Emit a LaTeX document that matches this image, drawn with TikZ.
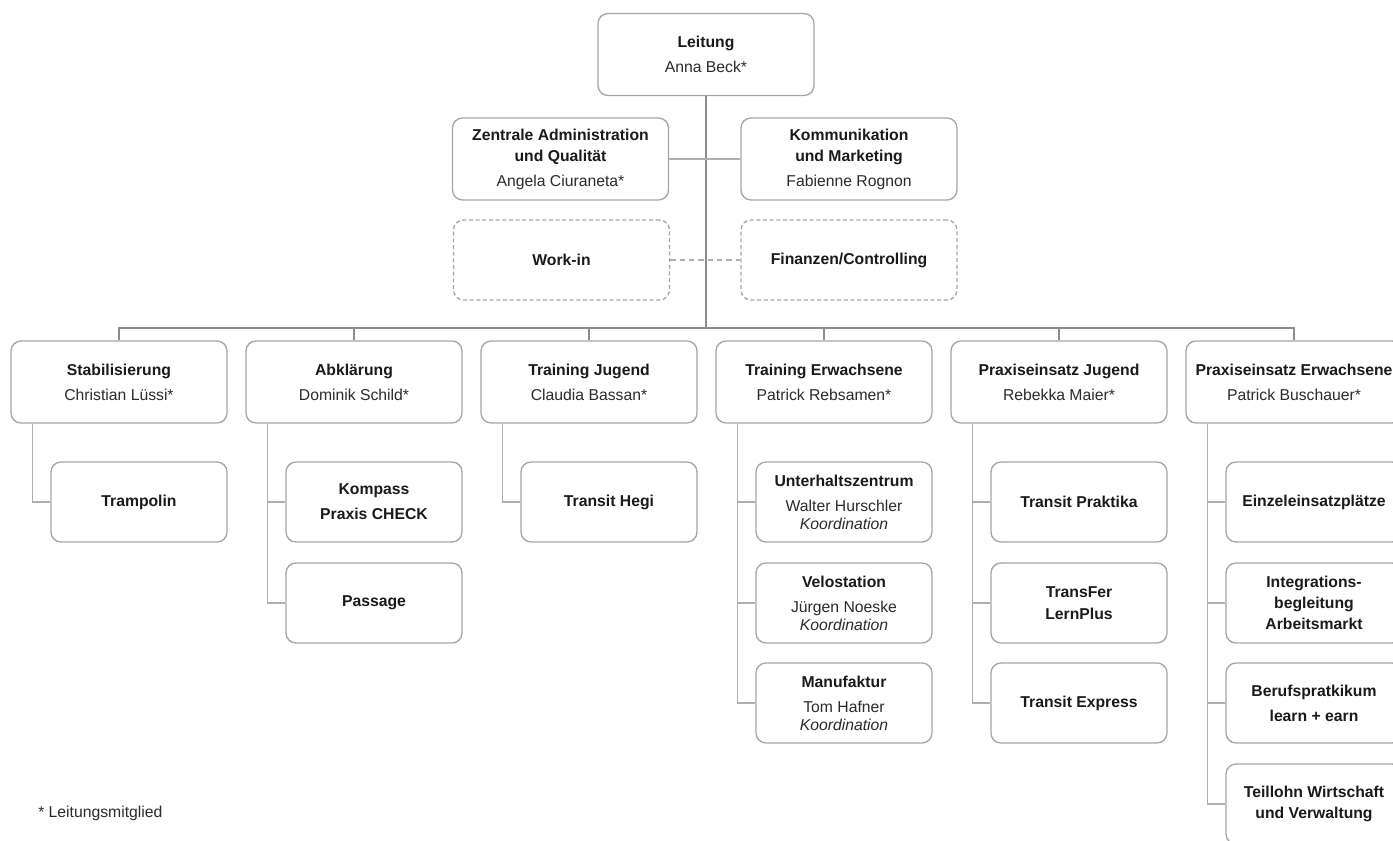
\documentclass[tikz,border=0pt]{standalone}
\usepackage{fontspec}
\setmainfont{Liberation Sans}
\definecolor{boxc}{HTML}{A6A6A6}
\definecolor{linec}{HTML}{8C8C8C}
\definecolor{lightc}{HTML}{AFAFAF}
\definecolor{txt}{HTML}{1A1A1A}
\definecolor{nmc}{HTML}{2B2B2B}
\newcommand\orgfs{\fontsize{11.8}{15.75}\selectfont}
\newcommand\nm[1]{{\color{nmc}#1}}
\begin{document}
\begin{tikzpicture}[x=0.75pt,y=-0.75pt,
  box/.style={draw=boxc, line width=1pt, rounded corners=7.5pt, align=center,
    inner sep=0pt, text=txt, font=\orgfs},
  topbox/.style={box, minimum width=162pt, minimum height=61.5pt},
  dbox/.style={box, dashed, dash pattern=on 3pt off 2pt, minimum width=162pt, minimum height=60pt},
  pbox/.style={box, minimum width=162pt, minimum height=61.5pt},
  cbox/.style={box, minimum width=132pt, minimum height=60pt},
  conn/.style={draw=linec, line width=1.1pt},
  lconn/.style={draw=lightc, line width=1.1pt},
  note/.style={text=nmc, font=\orgfs, anchor=west, inner sep=0pt}]
\useasboundingbox (0,0) rectangle (1393,841);
\clip (0,0) rectangle (1393,841);
\fill[white] (0,0) rectangle (1393,841);

% top level
\node[topbox] (lead) at (706,54.5) {\textbf{Leitung}\\[3pt]\nm{Anna Beck*}};
\node[topbox] (zen) at (560.5,159) {\textbf{Zentrale Administration}\\\textbf{und Qualität}\\[3pt]\nm{Angela Ciuraneta*}};
\node[topbox] (kom) at (849,159) {\textbf{Kommunikation}\\\textbf{und Marketing}\\[3pt]\nm{Fabienne Rognon}};
\node[dbox] (work) at (561.5,260) {\textbf{Work-in}};
\node[dbox] (fin) at (849,260) {\textbf{Finanzen/Controlling}};

\coordinate (bus) at (706,328);
\draw[conn] (lead.south) -- (bus);
\draw[lconn] (zen.east) -- (kom.west);
\draw[lconn, dashed, dash pattern=on 4pt off 3pt] (work.east) -- (fin.west);

% second level
\node[pbox] (p1) at (119,382) {\textbf{Stabilisierung}\\[3pt]\nm{Christian Lüssi*}};
\node[pbox] (p2) at (354,382) {\textbf{Abklärung}\\[3pt]\nm{Dominik Schild*}};
\node[pbox] (p3) at (589,382) {\textbf{Training Jugend}\\[3pt]\nm{Claudia Bassan*}};
\node[pbox] (p4) at (824,382) {\textbf{Training Erwachsene}\\[3pt]\nm{Patrick Rebsamen*}};
\node[pbox] (p5) at (1059,382) {\textbf{Praxiseinsatz Jugend}\\[3pt]\nm{Rebekka Maier*}};
\node[pbox] (p6) at (1294,382) {\textbf{Praxiseinsatz Erwachsene}\\[3pt]\nm{Patrick Buschauer*}};

\draw[conn] (p1.north) -- (p1.north |- bus) -- (p6.north |- bus) -- (p6.north);
\foreach \p in {p2,p3,p4,p5} \draw[conn] (\p.north) -- (\p.north |- bus);

% third level
\node[cbox] (c11) at (139,502) {\textbf{Trampolin}};
\node[cbox] (c21) at (374,502) {\textbf{Kompass}\\[3pt]\textbf{Praxis CHECK}};
\node[cbox] (c22) at (374,603) {\textbf{Passage}};
\node[cbox] (c31) at (609,502) {\textbf{Transit Hegi}};
\node[cbox] (c41) at (844,502) {\textbf{Unterhaltszentrum}\\[3pt]\nm{Walter Hurschler}\\[-2.25pt]\nm{\textit{Koordination}}};
\node[cbox] (c42) at (844,603) {\textbf{Velostation}\\[3pt]\nm{Jürgen Noeske}\\[-2.25pt]\nm{\textit{Koordination}}};
\node[cbox] (c43) at (844,703) {\textbf{Manufaktur}\\[3pt]\nm{Tom Hafner}\\[-2.25pt]\nm{\textit{Koordination}}};
\node[cbox] (c51) at (1079,502) {\textbf{Transit Praktika}};
\node[cbox] (c52) at (1079,603) {\textbf{TransFer}\\[1pt]\textbf{LernPlus}};
\node[cbox] (c53) at (1079,703) {\textbf{Transit Express}};
\node[cbox] (c61) at (1314,502) {\textbf{Einzeleinsatzplätze}};
\node[cbox] (c62) at (1314,603) {\textbf{Integrations-}\\\textbf{begleitung}\\\textbf{Arbeitsmarkt}};
\node[cbox] (c63) at (1314,703) {\textbf{Berufspratkikum}\\[3pt]\textbf{learn + earn}};
\node[cbox] (c64) at (1314,804) {\textbf{Teillohn Wirtschaft}\\\textbf{und Verwaltung}};

\draw[lconn] ([xshift=16.5pt]p1.south west) |- (c11.west);
\draw[lconn] ([xshift=16.5pt]p2.south west) |- (c21.west);
\draw[lconn] ([xshift=16.5pt]p2.south west) |- (c22.west);
\draw[lconn] ([xshift=16.5pt]p3.south west) |- (c31.west);
\foreach \c in {c41,c42,c43} \draw[lconn] ([xshift=16.5pt]p4.south west) |- (\c.west);
\foreach \c in {c51,c52,c53} \draw[lconn] ([xshift=16.5pt]p5.south west) |- (\c.west);
\foreach \c in {c61,c62,c63,c64} \draw[lconn] ([xshift=16.5pt]p6.south west) |- (\c.west);

\node[note] (fn) at (38,813) {* Leitungsmitglied};
\end{tikzpicture}
\end{document}
